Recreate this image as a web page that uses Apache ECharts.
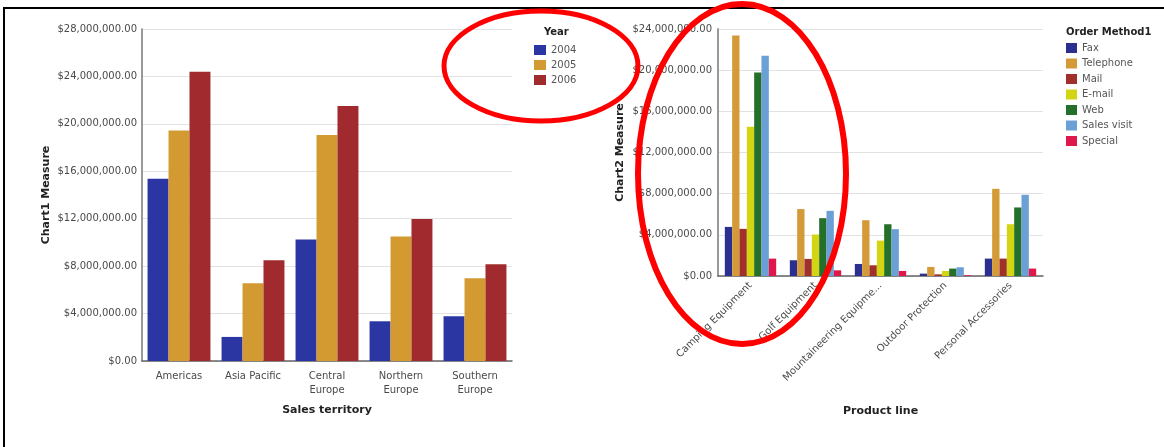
<!DOCTYPE html>
<html>
<head>
<meta charset="utf-8">
<script src="https://cdn.jsdelivr.net/npm/echarts@6/dist/echarts.min.js"></script>
<style>html,body{margin:0;padding:0;background:#fff;}#c{width:1164px;height:447px;}</style>
</head>
<body>
<div id="c"></div>
<script>
// Chart 1: Sales territory by year
var territories = ['Americas', 'Asia Pacific', 'Central Europe', 'Northern Europe', 'Southern Europe'];
var years = ['2004', '2005', '2006'];
var y2004 = [15370000, 2030000, 10250000, 3350000, 3780000];
var y2005 = [19430000, 6560000, 19060000, 10500000, 6980000];
var y2006 = [24400000, 8500000, 21500000, 11970000, 8170000];
var yearColors = ['#2c36a3', '#d49a32', '#a12a2e'];
var chart1Ticks = [0, 4000000, 8000000, 12000000, 16000000, 20000000, 24000000, 28000000];

// Chart 2: Product line by order method
var productLines = ['Camping Equipment', 'Golf Equipment', 'Mountaineering Equipment', 'Outdoor Protection', 'Personal Accessories'];
var methods = ['Fax', 'Telephone', 'Mail', 'E-mail', 'Web', 'Sales visit', 'Special'];
var fax       = [4770000, 1530000, 1170000, 230000, 1690000];
var telephone = [23370000, 6500000, 5420000, 880000, 8470000];
var mail      = [4580000, 1660000, 1040000, 160000, 1690000];
var email     = [14500000, 4030000, 3440000, 490000, 5030000];
var web       = [19770000, 5620000, 5030000, 720000, 6660000];
var salesVisit= [21400000, 6330000, 4550000, 850000, 7890000];
var special   = [1690000, 550000, 490000, 70000, 720000];
var methodColors = ['#2b2f90', '#d39a37', '#a0302b', '#d2d414', '#24702a', '#6aa0d6', '#e0174a'];
var chart2Ticks = [0, 4000000, 8000000, 12000000, 16000000, 20000000, 24000000];

var FONT = 'DejaVu Sans';
function money(v) {
  var s = Math.round(v).toString().replace(/\B(?=(\d{3})+(?!\d))/g, ',');
  return '$' + s + '.00';
}

var chart = echarts.init(document.getElementById('c'), null, {renderer: 'canvas'});
var yearData = [y2004, y2005, y2006];
var methodData = [fax, telephone, mail, email, web, salesVisit, special];

var series = [];
years.forEach(function (y, i) {
  series.push({
    name: y, type: 'bar', xAxisIndex: 0, yAxisIndex: 0,
    data: yearData[i], barGap: '0%', barCategoryGap: '15%',
    itemStyle: {color: yearColors[i]}
  });
});
methods.forEach(function (m, i) {
  series.push({
    name: m, type: 'bar', xAxisIndex: 1, yAxisIndex: 1,
    data: methodData[i], barGap: '0%', barCategoryGap: '21%',
    itemStyle: {color: methodColors[i]}
  });
});

var axisLabelStyle = {fontFamily: FONT, fontSize: 10, color: '#4a4a4a'};
var nameStyle = {fontFamily: FONT, fontSize: 11, fontWeight: 'bold', color: '#222'};

chart.setOption({
  animation: false,
  backgroundColor: '#fff',
  title: [
    {text: 'Year', left: 539, top: 22, textStyle: {fontFamily: FONT, fontSize: 10, fontWeight: 'bold', color: '#222'}},
    {text: 'Order Method1', left: 1061, top: 22, textStyle: {fontFamily: FONT, fontSize: 10, fontWeight: 'bold', color: '#222'}}
  ],
  legend: [
    {data: years, orient: 'vertical', left: 529, top: 39, itemWidth: 12, itemHeight: 10, itemGap: 3,
     icon: 'rect', textStyle: {fontFamily: FONT, fontSize: 10, color: '#555', lineHeight: 12}},
    {data: methods, orient: 'vertical', left: 1061, top: 37, itemWidth: 11, itemHeight: 10, itemGap: 3.5,
     icon: 'rect', textStyle: {fontFamily: FONT, fontSize: 10, color: '#555', lineHeight: 12}}
  ],
  grid: [
    {left: 142, top: 29, width: 370, height: 332, containLabel: false},
    {left: 718, top: 29, width: 325, height: 247, containLabel: false}
  ],
  xAxis: [
    {type: 'category', gridIndex: 0, data: territories,
     axisLine: {lineStyle: {color: '#666', width: 1.5}}, axisTick: {show: false},
     axisLabel: Object.assign({}, axisLabelStyle, {interval: 0, margin: 8, lineHeight: 14,
       formatter: function (v) { return v.replace(' Europe', '\nEurope'); }}),
     name: 'Sales territory', nameLocation: 'middle', nameGap: 44, nameTextStyle: nameStyle},
    {type: 'category', gridIndex: 1, data: productLines,
     axisLine: {lineStyle: {color: '#666', width: 1.5}}, axisTick: {show: false},
     axisLabel: Object.assign({}, axisLabelStyle, {interval: 0, rotate: 45, margin: 8,
       formatter: function (v) { return v.length > 22 ? v.slice(0, 22) + '...' : v; }}),
     name: 'Product line', nameLocation: 'middle', nameGap: 130, nameTextStyle: nameStyle}
  ],
  yAxis: [
    {type: 'value', gridIndex: 0, min: chart1Ticks[0], max: chart1Ticks[chart1Ticks.length - 1], interval: 4000000,
     axisLine: {show: true, lineStyle: {color: '#777', width: 1.5}}, axisTick: {show: false},
     splitLine: {lineStyle: {color: '#e2e2e2'}},
     axisLabel: Object.assign({}, axisLabelStyle, {margin: 5, formatter: money}),
     name: 'Chart1 Measure', nameLocation: 'middle', nameGap: 90, nameRotate: 90, nameTextStyle: nameStyle},
    {type: 'value', gridIndex: 1, min: chart2Ticks[0], max: chart2Ticks[chart2Ticks.length - 1], interval: 4000000,
     axisLine: {show: true, lineStyle: {color: '#999', width: 2}}, axisTick: {show: false},
     splitLine: {lineStyle: {color: '#e2e2e2'}},
     axisLabel: Object.assign({}, axisLabelStyle, {margin: 6, formatter: money}),
     name: 'Chart2 Measure', nameLocation: 'middle', nameGap: 92, nameRotate: 90, nameTextStyle: nameStyle}
  ],
  series: series,
  graphic: [
    {type: 'rect', shape: {x: 4, y: 8, width: 1300, height: 600}, style: {fill: 'none', stroke: '#000', lineWidth: 2}, silent: true, z: 100},
    {type: 'ellipse', shape: {cx: 541, cy: 66, rx: 97, ry: 55}, style: {fill: 'none', stroke: '#f00', lineWidth: 5}, silent: true, z: 100},
    {type: 'ellipse', shape: {cx: 742, cy: 174, rx: 104, ry: 170}, style: {fill: 'none', stroke: '#f00', lineWidth: 6}, silent: true, z: 100}
  ]
});
</script>
</body>
</html>
